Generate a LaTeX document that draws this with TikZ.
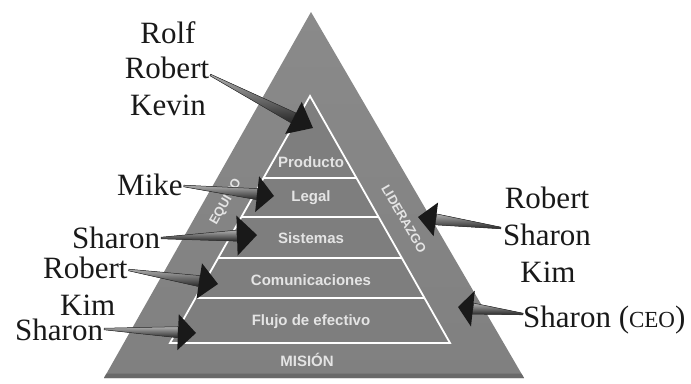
\documentclass[tikz,border=0pt]{standalone}
\usepackage{fontspec}
\setmainfont{Liberation Serif}
\newfontfamily\labelfont{Liberation Sans}
\usetikzlibrary{calc}

\definecolor{pyrtop}{RGB}{138,138,138}
\definecolor{pyrbot}{RGB}{128,128,128}
\definecolor{innergray}{RGB}{126,126,126}
\definecolor{tiertext}{RGB}{228,228,228}
\definecolor{shaftlight}{RGB}{175,175,175}
\definecolor{shaftdark}{RGB}{40,40,40}
\definecolor{rimgray}{RGB}{105,105,105}

% tapered pointer: start, tip, head length, head half width
\newcommand{\conearrow}[4]{%
  \coordinate (hb) at ($(#2)!#3pt!(#1)$);
  \filldraw[shaft] ($(#1)!0.8pt!90:(hb)$) -- ($(hb)!5.5pt!-90:(#1)$)
     -- ($(hb)!5.5pt!90:(#1)$) -- ($(#1)!0.8pt!-90:(hb)$) -- cycle;
  \fill[head] (#2) -- ($(hb)!#4pt!90:(#1)$) -- ($(hb)!#4pt!-90:(#1)$) -- cycle;
}

\begin{document}
\begin{tikzpicture}[x=1pt,y=-1pt,
  person/.style={font=\fontsize{31}{36}\selectfont, text=black!90, inner sep=0pt},
  tier/.style={font=\labelfont\bfseries\fontsize{15}{15}\selectfont, text=tiertext, inner sep=0pt},
  band/.style={font=\labelfont\bfseries\fontsize{13}{13}\selectfont, text=tiertext, inner sep=0pt},
  shaft/.style={top color=shaftlight, bottom color=shaftdark, draw=black!80, line width=0.5pt},
  head/.style={fill=black!90},
  rule/.style={draw=white, line width=1.8pt}
]
\path[use as bounding box] (0,0) rectangle (691,383);

% outer pyramid
\coordinate (apex) at (311,12);
\coordinate (bl) at (104,378);
\coordinate (br) at (524,378);
\shade[top color=pyrtop, bottom color=pyrbot] (apex) -- (br) -- (bl) -- cycle;
\fill[rimgray] (bl) -- (br) -- ($(br)!0.012!(apex)$) -- ($(bl)!0.012!(apex)$) -- cycle;

% inner pyramid with its tiers
\coordinate (ia) at (310,96);
\coordinate (il) at (170,343);
\coordinate (ir) at (450,343);
\fill[innergray] (ia) -- (ir) -- (il) -- cycle;
\foreach \t/\n in {0.332/a,0.490/b,0.656/c,0.818/d}{
  \coordinate (l\n) at ($(ia)!\t!(il)$);
  \coordinate (r\n) at ($(ia)!\t!(ir)$);
}
\draw[rule] (la) -- (ra) (lb) -- (rb) (lc) -- (rc) (ld) -- (rd);
\draw[rule, line join=miter] (ia) -- (ir) -- (il) -- cycle;

\node[tier] (producto) at (311,162) {Producto};
\node[tier] (legal) at (311,198) {Legal};
\node[tier] (sistemas) at (311,238) {Sistemas};
\node[tier] (comunic) at (311,280) {Comunicaciones};
\node[tier] (flujo) at (311,322) {Flujo de efectivo};
\node[tier] (mision) at (307,360) {MISIÓN};
\node[band, rotate=60.5] (equipo) at (226,202) {EQUIPO};
\node[band, rotate=-60] (liderazgo) at (404,219) {LIDERAZGO};

% names
\node[person, anchor=base] (rolf) at (168,43) {Rolf};
\node[person, anchor=base] (robA) at (167,78) {Robert};
\node[person, anchor=base] (kevin) at (168,115) {Kevin};
\node[person, anchor=base west] (mike) at (117,195) {Mike};
\node[person, anchor=base west] (sharonA) at (72,248) {Sharon};
\node[person, anchor=base west] (robB) at (43,278) {Robert};
\node[person, anchor=base west] (kimB) at (60,315) {Kim};
\node[person, anchor=base west] (sharonB) at (15,340) {Sharon};
\node[person, anchor=base] (robC) at (547,208) {Robert};
\node[person, anchor=base] (sharonC) at (547,245) {Sharon};
\node[person, anchor=base] (kimC) at (548,282) {Kim};
\node[person, anchor=base west] (ceo) at (523,327) {Sharon ({\fontsize{23}{23}\selectfont CEO})};

% pointer ends
\coordinate (sA) at ($(robA.base east)+(1,-3)$);
\coordinate (tA) at (313,128);
\coordinate (sM) at ($(mike.base east)+(1,-9)$);
\coordinate (tM) at (274,196);
\coordinate (sS) at ($(sharonA.base east)+(1,-10)$);
\coordinate (tS) at (257,235);
\coordinate (sR) at ($(robB.base east)+(1,-8)$);
\coordinate (tR) at (218,284);
\coordinate (sB) at ($(sharonB.base east)+(1,-11)$);
\coordinate (tB) at (196,333);
\coordinate (sC) at ($(sharonC.base west)+(-2,-17)$);
\coordinate (tC) at (418,217);
\coordinate (sE) at ($(ceo.base west)+(0,-13)$);
\coordinate (tE) at (458,307);

\conearrow{sA}{tA}{22}{18}
\conearrow{sM}{tM}{17}{18}
\conearrow{sS}{tS}{20}{20}
\conearrow{sR}{tR}{19}{18}
\conearrow{sB}{tB}{18}{18}
\conearrow{sC}{tC}{18}{17}
\conearrow{sE}{tE}{15}{18}
\end{tikzpicture}
\end{document}
